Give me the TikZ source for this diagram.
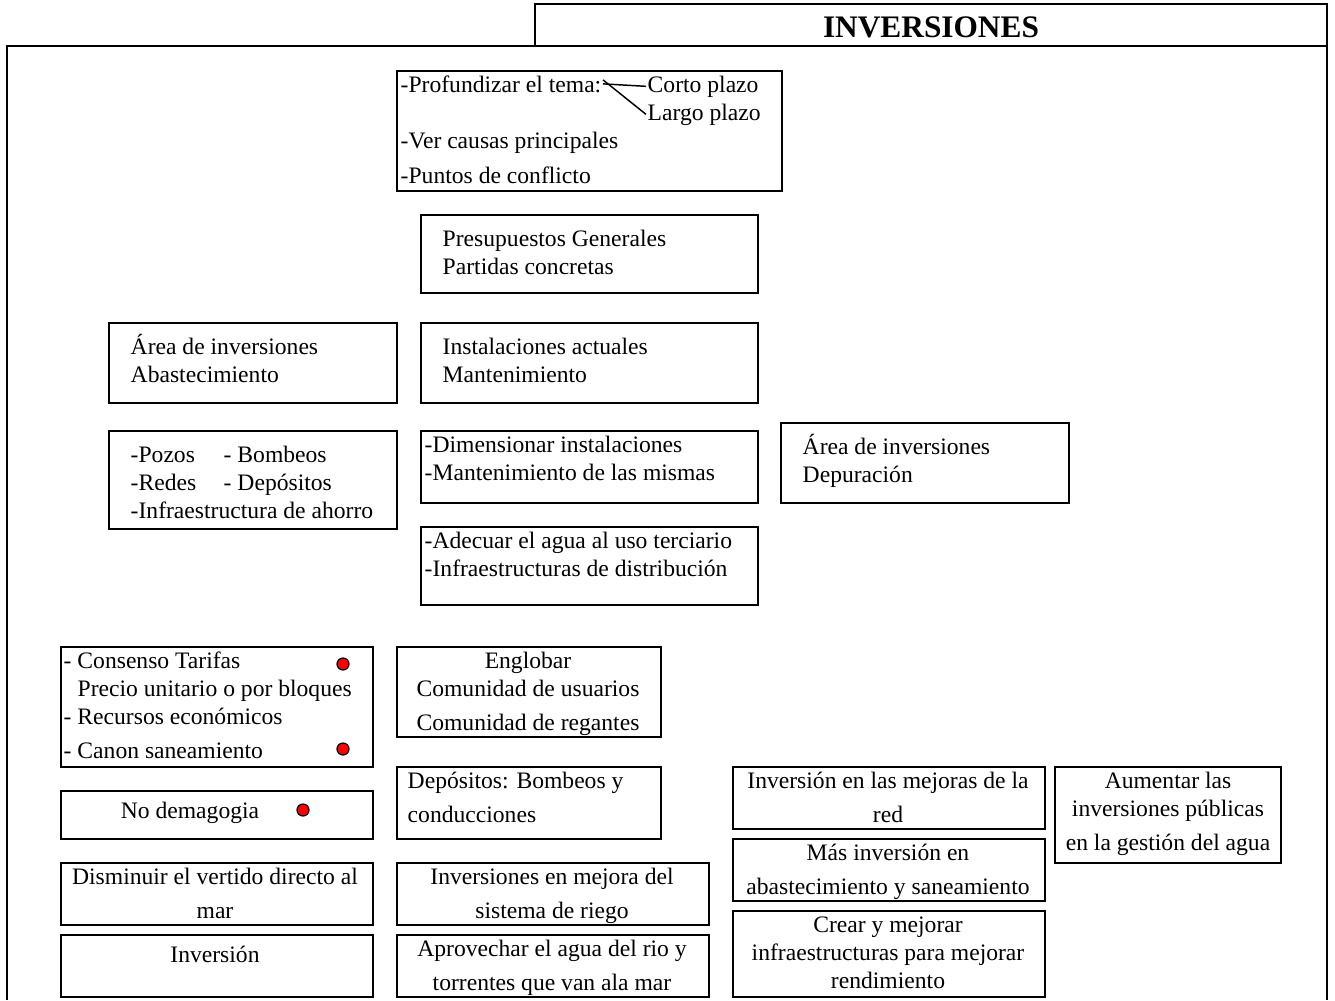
\documentclass[tikz,border=0pt]{standalone}
\usepackage{fontspec}
\setmainfont{Liberation Serif}
\tikzset{every picture/.style={line width=1.1pt}}
\tikzset{
  lbl/.style={anchor=base west,inner sep=0.75pt},
  ctr/.style={anchor=base,inner sep=0.75pt},
  dot/.style={fill=red,line width=0.9pt}
}
\begin{document}
\begin{tikzpicture}[x=0.75pt,y=0.75pt,yscale=-1,xscale=1,font=\fontsize{17.7}{21}\selectfont]
        \useasboundingbox (0,0) rectangle (1335,1000);

        %Shape: Frame
        \draw    (7,1000) -- (7,46) -- (1327,46) -- (1327,1000) ;
        %Shape: Rectangle (title)
        \draw    (535,4) -- (1327,4) -- (1327,46) -- (535,46) -- cycle ;
        % Text Node
        \draw (931,37) node [ctr,font=\fontsize{23.5}{28}\selectfont\bfseries] (title) {INVERSIONES};

        %Shape: Rectangle
        \draw    (397,71) -- (782,71) -- (782,191) -- (397,191) -- cycle ;
        % Text Node
        \draw (399,92) node [lbl] (tema) {-Profundizar el tema:};
        % Text Node
        \draw (646,92) node [lbl] (corto) {Corto plazo};
        % Text Node
        \draw (646,120) node [lbl] (largo) {Largo plazo};
        % Text Node
        \draw (399,148) node [lbl] (causas) {-Ver causas principales};
        % Text Node
        \draw (399,183) node [lbl] (puntos) {-Puntos de conflicto};
        %Straight Lines
        \draw    (tema.east) -- (corto.west) ;
        %Straight Lines
        \draw    ([yshift=-3]tema.east) -- (largo.west) ;

        %Shape: Rectangle
        \draw    (421,215) -- (758,215) -- (758,293) -- (421,293) -- cycle ;
        % Text Node
        \draw (441,246) node [lbl] (presup) {Presupuestos Generales};
        % Text Node
        \draw (441,274) node [lbl] (partidas) {Partidas concretas};

        %Shape: Rectangle
        \draw    (109,323) -- (397,323) -- (397,403) -- (109,403) -- cycle ;
        % Text Node
        \draw (129,354) node [lbl] (areaA) {Área de inversiones};
        % Text Node
        \draw (129,382) node [lbl] (abast) {Abastecimiento};

        %Shape: Rectangle
        \draw    (421,323) -- (758,323) -- (758,403) -- (421,403) -- cycle ;
        % Text Node
        \draw (441,354) node [lbl] (instal) {Instalaciones actuales};
        % Text Node
        \draw (441,382) node [lbl] (mant) {Mantenimiento};

        %Shape: Rectangle
        \draw    (109,431) -- (397,431) -- (397,529) -- (109,529) -- cycle ;
        % Text Node
        \draw (129,462) node [lbl] (pozos) {-Pozos};
        % Text Node
        \draw (222,462) node [lbl] (bombeos) {- Bombeos};
        % Text Node
        \draw (129,490) node [lbl] (redes) {-Redes};
        % Text Node
        \draw (222,490) node [lbl] (depos) {- Depósitos};
        % Text Node
        \draw (129,518) node [lbl] (ahorro) {-Infraestructura de ahorro};

        %Shape: Rectangle
        \draw    (421,431) -- (758,431) -- (758,503) -- (421,503) -- cycle ;
        % Text Node
        \draw (423,452) node [lbl] (dimens) {-Dimensionar instalaciones};
        % Text Node
        \draw (423,480) node [lbl] (mismas) {-Mantenimiento de las mismas};

        %Shape: Rectangle
        \draw    (781,423) -- (1069,423) -- (1069,503) -- (781,503) -- cycle ;
        % Text Node
        \draw (801,454) node [lbl] (areaD) {Área de inversiones};
        % Text Node
        \draw (801,482) node [lbl] (depur) {Depuración};

        %Shape: Rectangle
        \draw    (421,527) -- (758,527) -- (758,605) -- (421,605) -- cycle ;
        % Text Node
        \draw (423,548) node [lbl] (adecuar) {-Adecuar el agua al uso terciario};
        % Text Node
        \draw (423,576) node [lbl] (distrib) {-Infraestructuras de distribución};

        %Shape: Rectangle
        \draw    (61,647) -- (373,647) -- (373,767) -- (61,767) -- cycle ;
        % Text Node
        \draw (62,668) node [lbl] (consenso) {- Consenso Tarifas};
        % Text Node
        \draw (76,696) node [lbl] (precio) {Precio unitario o por bloques};
        % Text Node
        \draw (62,724) node [lbl] (recursos) {- Recursos económicos};
        % Text Node
        \draw (62,758) node [lbl] (canon) {- Canon saneamiento};
        %Shape: Circle
        \draw [dot] (343,664) circle (6) ;
        %Shape: Circle
        \draw [dot] (343,749) circle (6) ;

        %Shape: Rectangle
        \draw    (61,791) -- (373,791) -- (373,839) -- (61,839) -- cycle ;
        % Text Node
        \draw (190,818) node [ctr] (demag) {No demagogia};
        %Shape: Circle
        \draw [dot] (303,810) circle (6) ;

        %Shape: Rectangle
        \draw    (61,863) -- (373,863) -- (373,925) -- (61,925) -- cycle ;
        % Text Node
        \draw (215,884) node [ctr] (dismin) {Disminuir el vertido directo al};
        % Text Node
        \draw (215,918) node [ctr] (mar) {mar};

        %Shape: Rectangle
        \draw    (61,935) -- (373,935) -- (373,997) -- (61,997) -- cycle ;
        % Text Node
        \draw (215,962) node [ctr] (inversion) {Inversión};

        %Shape: Rectangle
        \draw    (397,647) -- (661,647) -- (661,737) -- (397,737) -- cycle ;
        % Text Node
        \draw (528,668) node [ctr] (englobar) {Englobar};
        % Text Node
        \draw (528,696) node [ctr] (usuarios) {Comunidad de usuarios};
        % Text Node
        \draw (528,730) node [ctr] (regantes) {Comunidad de regantes};

        %Shape: Rectangle
        \draw    (397,767) -- (661,767) -- (661,839) -- (397,839) -- cycle ;
        % Text Node
        \draw (406,788) node [lbl] (depbomb) {Depósitos: Bombeos y};
        % Text Node
        \draw (406,822) node [lbl] (conduc) {conducciones};

        %Shape: Rectangle
        \draw    (397,863) -- (709,863) -- (709,925) -- (397,925) -- cycle ;
        % Text Node
        \draw (552,884) node [ctr] (riegoA) {Inversiones en mejora del};
        % Text Node
        \draw (552,918) node [ctr] (riegoB) {sistema de riego};

        %Shape: Rectangle
        \draw    (397,935) -- (709,935) -- (709,997) -- (397,997) -- cycle ;
        % Text Node
        \draw (552,956) node [ctr] (rioA) {Aprovechar el agua del rio y};
        % Text Node
        \draw (552,990) node [ctr] (rioB) {torrentes que van ala mar};

        %Shape: Rectangle
        \draw    (733,767) -- (1045,767) -- (1045,829) -- (733,829) -- cycle ;
        % Text Node
        \draw (888,788) node [ctr] (redA) {Inversión en las mejoras de la};
        % Text Node
        \draw (888,822) node [ctr] (redB) {red};

        %Shape: Rectangle
        \draw    (733,839) -- (1045,839) -- (1045,901) -- (733,901) -- cycle ;
        % Text Node
        \draw (888,860) node [ctr] (masA) {Más inversión en};
        % Text Node
        \draw (888,894) node [ctr] (masB) {abastecimiento y saneamiento};

        %Shape: Rectangle
        \draw    (733,911) -- (1045,911) -- (1045,997) -- (733,997) -- cycle ;
        % Text Node
        \draw (888,932) node [ctr] (crearA) {Crear y mejorar};
        % Text Node
        \draw (888,960) node [ctr] (crearB) {infraestructuras para mejorar};
        % Text Node
        \draw (888,988) node [ctr] (crearC) {rendimiento};

        %Shape: Rectangle
        \draw    (1055,767) -- (1281,767) -- (1281,863) -- (1055,863) -- cycle ;
        % Text Node
        \draw (1168,788) node [ctr] (aumA) {Aumentar las};
        % Text Node
        \draw (1168,816) node [ctr] (aumB) {inversiones públicas};
        % Text Node
        \draw (1168,850) node [ctr] (aumC) {en la gestión del agua};

\end{tikzpicture}
\end{document}
